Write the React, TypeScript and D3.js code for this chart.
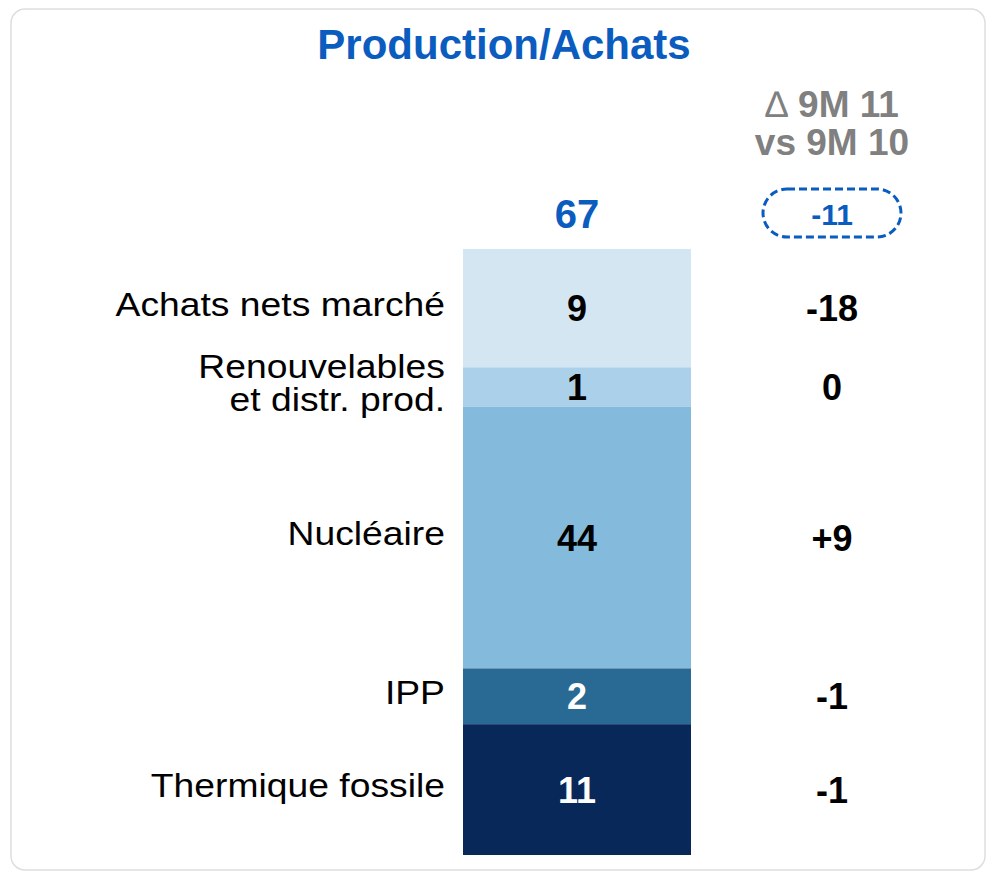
import * as d3 from "d3";

// segments, top to bottom
const categories = [
  ["Achats nets marché"],
  ["Renouvelables", "et distr. prod."],
  ["Nucléaire"],
  ["IPP"],
  ["Thermique fossile"],
];
const values = [9, 1, 44, 2, 11];
const deltas = [-18, 0, 9, -1, -1];
const colors = ["#d5e6f3", "#abd0e9", "#84bbdc", "#286a93", "#09285a"];
const textColors = ["#000", "#000", "#000", "#fff", "#fff"];

const title = "Production/Achats";
const deltaHeader = ["9M 11", "vs 9M 10"];

const W = 989;
const H = 873;
const FONT = "'Liberation Sans', Arial, Helvetica, sans-serif";
const BLUE = "#0b5cbf";

const fmtDelta = (d: number) => (d > 0 ? `+${d}` : `${d}`);

export default function App() {
  const barX = 463;
  const barW = 228;
  const barTop = 249;
  const barBottom = 855;
  const deltaX = 832;
  const labelX = 445;

  // le graphique d'origine comprime les grands segments -> échelle racine
  const sq = d3.scaleSqrt().domain([0, 1]).range([0, 1]);
  const weights = values.map((v) => sq(v));
  const y = d3
    .scaleLinear()
    .domain([0, d3.sum(weights)])
    .range([barTop, barBottom]);

  const segs = values.map((v, i) => {
    const start = d3.sum(weights.slice(0, i));
    const y0 = y(start);
    const y1 = y(start + weights[i]);
    return { v, i, y0, y1, cy: (y0 + y1) / 2 };
  });

  const total = d3.sum(values);
  const totalDelta = d3.sum(deltas);

  return (
    <svg
      width={W}
      height={H}
      style={{ position: "absolute", left: 0, top: 0, background: "#fff" }}
      fontFamily={FONT}
    >
      <rect x={11} y={9} width={974} height={861} rx={14} fill="#fff" stroke="#dedede" strokeWidth={1.5} />

      <text x={504} y={59} textAnchor="middle" fontSize={42} fontWeight="bold" fill={BLUE}>
        {title}
      </text>

      <text x={deltaX} y={117} textAnchor="middle" fontSize={37} fontWeight="bold" fill="#808080">
        <tspan fontWeight="normal">∆ </tspan>
        {deltaHeader[0]}
      </text>
      <text x={deltaX} y={155} textAnchor="middle" fontSize={37} fontWeight="bold" fill="#808080">
        {deltaHeader[1]}
      </text>

      <text x={barX + barW / 2} y={228} textAnchor="middle" fontSize={40} fontWeight="bold" fill={BLUE}>
        {total}
      </text>

      <rect
        x={deltaX - 69}
        y={189}
        width={138}
        height={48}
        rx={24}
        fill="none"
        stroke={BLUE}
        strokeWidth={3}
        strokeDasharray="8 4"
      />
      <text x={deltaX} y={225} textAnchor="middle" fontSize={30} fontWeight="bold" fill={BLUE}>
        {fmtDelta(totalDelta)}
      </text>

      {segs.map((s) => (
        <g key={s.i}>
          <rect x={barX} y={s.y0} width={barW} height={s.y1 - s.y0} fill={colors[s.i]} />
          <text
            x={barX + barW / 2}
            y={s.cy}
            dy="0.36em"
            textAnchor="middle"
            fontSize={36}
            fontWeight="bold"
            fill={textColors[s.i]}
          >
            {s.v}
          </text>
          <text x={deltaX} y={s.cy} dy="0.36em" textAnchor="middle" fontSize={36} fontWeight="bold" fill="#000">
            {fmtDelta(deltas[s.i])}
          </text>
          <g transform={`translate(${labelX},${s.cy - 4}) scale(1.13,1)`}>
            {categories[s.i].map((line, j, arr) => (
              <text
                key={j}
                x={0}
                y={(j - (arr.length - 1) / 2) * 33}
                dy="0.36em"
                textAnchor="end"
                fontSize={33}
                fill="#000"
              >
                {line}
              </text>
            ))}
          </g>
        </g>
      ))}
    </svg>
  );
}
